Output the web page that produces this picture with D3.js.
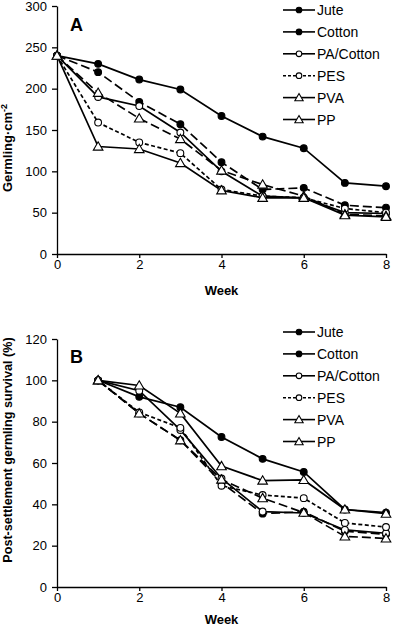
<!DOCTYPE html>
<html>
<head>
<meta charset="utf-8">
<script src="https://cdn.jsdelivr.net/npm/d3@7"></script>
<style>
  html, body { margin: 0; padding: 0; background: #fff; }
  svg { display: block; font-family: "Liberation Sans", Arial, sans-serif; }
</style>
</head>
<body>
<svg id="chart" width="394" height="629"></svg>
<script>
// ---------- DATA ----------
const seriesNames = ["Jute", "Cotton", "PA/Cotton", "PES", "PVA", "PP"];
const weeksA = [0, 1, 2, 3, 4, 5, 6, 7, 8];
const weeksB = [1, 2, 3, 4, 5, 6, 7, 8];

// Panel A: Germling·cm-2
const juteA      = [240, 230, 211, 199, 167, 142, 128, 86, 82];
const cottonA    = [240, 220, 184, 157, 111, 78, 80, 59, 56];
const paCottonA  = [240, 190, 179, 147, 100, 70, 68, 50, 49];
const pesA       = [240, 159, 135, 122, 78, 70, 68, 55, 50];
const pvaA       = [240, 195, 164, 139, 101, 84, 70, 48, 46];
const ppA        = [240, 130, 127, 110, 77, 68, 68, 47, 45];

// Panel B: Post-settlement germling survival (%)
const juteB      = [100, 92, 87, 72.6, 62, 55.7, 37.5, 36];
const cottonB    = [100, 84, 71, 50.5, 35.5, 36.4, 27, 25.5];
const paCottonB  = [100, 95, 76, 52.5, 36.5, 35.8, 27.6, 26];
const pesB       = [100, 84.5, 77, 49, 44.5, 43, 31, 29];
const pvaB       = [100, 84, 71, 52, 43, 36, 24.5, 23.5];
const ppB        = [100, 97.5, 84, 58.5, 51.5, 51.8, 37.5, 35.5];

const xTicks  = [0, 2, 4, 6, 8];
const yTicksA = [0, 50, 100, 150, 200, 250, 300];
const yTicksB = [0, 20, 40, 60, 80, 100, 120];

// ---------- STYLES ----------
const markerShape = ["circle", "circle", "circle", "circle", "triangle", "triangle"];
const markerFill  = ["#000", "#000", "#fff", "#fff", "#fff", "#fff"];
const lineDash    = [null, "9,4", null, "4,2.5", "9,4", null];
const legendDash  = [null, null, null, "3,2", null, null];

const svg = d3.select("#chart");

function drawPanel(cfg) {
  const x = d3.scaleLinear().domain([0, 8]).range([57, 386]);
  const y = d3.scaleLinear().domain(cfg.yDomain).range([cfg.yBottom, cfg.yTop]);
  const g = svg.append("g");

  // axes
  const yAxis = d3.axisLeft(y).tickValues(cfg.yTicks).tickSize(5).tickSizeOuter(0).tickPadding(5);
  const gy = g.append("g").attr("transform", `translate(${x(0)},0)`).call(yAxis);
  const xAxis = d3.axisBottom(x).tickValues(xTicks).tickSize(4).tickSizeOuter(0).tickPadding(2);
  const gx = g.append("g").attr("transform", `translate(0,${y(0)})`).call(xAxis);
  [gx, gy].forEach(a => {
    a.select(".domain").attr("stroke", "#000").attr("stroke-width", 1.3);
    a.selectAll(".tick line").attr("stroke", "#000").attr("stroke-width", 1.3);
    a.selectAll(".tick text").attr("fill", "#000").style("font-size", "13px")
      .style("font-family", "'Liberation Sans', Arial, sans-serif");
  });

  // axis titles
  g.append("text").attr("x", (x(0) + x(8)) / 2).attr("y", cfg.weekY)
    .attr("text-anchor", "middle").style("font-size", "13px").style("font-weight", "bold").text("Week");
  g.append("text").attr("transform", `translate(12,${cfg.yLabelCenter}) rotate(-90)`)
    .attr("text-anchor", "middle").style("font-size", cfg.yLabelSize).style("font-weight", "bold")
    .html(cfg.yLabel);

  // panel letter
  g.append("text").attr("x", 70).attr("y", cfg.letterY).style("font-size", "18px")
    .style("font-weight", "bold").text(cfg.letter);

  const line = d3.line().x(d => x(d[0])).y(d => y(d[1]));

  // lines
  cfg.series.forEach((vals, i) => {
    const pts = cfg.weeks.map((w, j) => [w, vals[j]]);
    g.append("path").datum(pts).attr("d", line).attr("fill", "none")
      .attr("stroke", "#000").attr("stroke-width", 1.7)
      .attr("stroke-dasharray", lineDash[i]);
  });

  // markers
  function marker(sel, i, cx, cy, r, triSize) {
    if (markerShape[i] === "circle") {
      sel.append("circle").attr("cx", cx).attr("cy", cy).attr("r", r)
        .attr("fill", markerFill[i]).attr("stroke", "#000").attr("stroke-width", 1.1);
    } else {
      sel.append("path").attr("d", d3.symbol().type(d3.symbolTriangle).size(triSize)())
        .attr("transform", `translate(${cx},${cy + 0.8})`)
        .attr("fill", markerFill[i]).attr("stroke", "#000").attr("stroke-width", 1.1);
    }
  }
  cfg.series.forEach((vals, i) => {
    cfg.weeks.forEach((w, j) => marker(g, i, x(w), y(vals[j]), 3.4, 40));
  });

  // legend
  seriesNames.forEach((name, i) => {
    const ly = cfg.legendTop + i * 21.9;
    g.append("line").attr("x1", 283).attr("x2", 315).attr("y1", ly).attr("y2", ly)
      .attr("stroke", "#000").attr("stroke-width", 1.6)
      .attr("stroke-dasharray", legendDash[i]);
    marker(g, i, 299, ly, 2.8, 30);
    g.append("text").attr("x", 317).attr("y", ly + 5).style("font-size", "14px").text(name);
  });
}

drawPanel({
  yDomain: [0, 300], yBottom: 254, yTop: 6, yTicks: yTicksA,
  weeks: weeksA, series: [juteA, cottonA, paCottonA, pesA, pvaA, ppA],
  yLabel: 'Germling·cm<tspan dy="-5" font-size="9">-2</tspan>', yLabelCenter: 148, yLabelSize: "13px",
  letter: "A", letterY: 31, legendTop: 10, weekY: 295
});
drawPanel({
  yDomain: [0, 120], yBottom: 587, yTop: 339, yTicks: yTicksB,
  weeks: weeksB, series: [juteB, cottonB, paCottonB, pesB, pvaB, ppB],
  yLabel: "Post-settlement germling survival (%)", yLabelCenter: 450, yLabelSize: "12.6px",
  letter: "B", letterY: 363, legendTop: 332, weekY: 624
});
</script>
</body>
</html>
